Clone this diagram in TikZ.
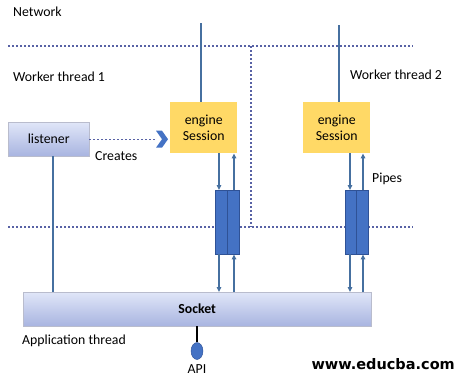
\documentclass[tikz,border=0pt]{standalone}
\usepackage{fontspec}
\setmainfont{Carlito}
\newfontfamily\webfont{DejaVu Sans}
\usetikzlibrary{arrows.meta,positioning,shapes.geometric}
\definecolor{WireBlue}{RGB}{70,112,160}
\definecolor{DotBlue}{RGB}{88,98,165}
\definecolor{EngYellow}{RGB}{255,217,102}
\definecolor{PipeBlue}{RGB}{68,114,196}
\definecolor{PipeEdge}{RGB}{47,82,150}
\definecolor{BarTop}{RGB}{224,230,248}
\definecolor{BarBot}{RGB}{168,180,224}
\definecolor{BarEdge}{RGB}{185,188,205}

\begin{document}
\begin{tikzpicture}[x=1pt,y=-1pt,
    font=\fontsize{13.8}{16.5}\selectfont,
    engbox/.style={fill=EngYellow,minimum width=67pt,minimum height=51pt,inner sep=0pt,align=center,anchor=north west},
    bar/.style={draw=BarEdge,top color=BarTop,bottom color=BarBot,inner sep=0pt,anchor=north west},
    pipebox/.style={draw=PipeEdge,fill=PipeBlue,minimum width=24pt,minimum height=64pt,inner sep=0pt,anchor=north west},
    sep/.style={DotBlue,line width=1.3pt,dash pattern=on 1.6pt off 2.4pt},
    wire/.style={WireBlue,line width=1.3pt},
    flow/.style={wire,-{Triangle[length=5pt,width=4.5pt]}},
    lbl/.style={anchor=west,inner sep=0pt}
  ]
  \useasboundingbox (0,0) rectangle (465,380);

  % Thread boundaries
  \draw[sep] (8,46) -- (413,46);
  \draw[sep] (251,46) -- (251,227);
  \draw[sep] (8,227) -- (413,227);

  % Labels
  \node[lbl] (net) at (13,12) {Network};
  \node[lbl] (wt1) at (13,77) {Worker thread 1};
  \node[lbl] (wt2) at (350,75) {Worker thread 2};
  \node[lbl] (creates) at (95,156) {Creates};
  \node[lbl] (pipes) at (372,179) {Pipes};
  \node[lbl] (app) at (22,341) {Application thread};

  % Boxes
  \node[bar,minimum width=81pt,minimum height=34pt] (listener) at (8,122) {listener};
  \node[bar,minimum width=348pt,minimum height=34pt,font=\fontsize{13.8}{16.5}\selectfont\bfseries] (sock) at (23,292) {Socket};
  \node[engbox] (engA) at (170,102) {engine\\Session};
  \node[engbox] (engB) at (303,102) {engine\\Session};
  \node[pipebox] (pipeA) at (215,190) {};
  \node[pipebox,minimum width=23pt] (pipeB) at (345,190) {};
  \draw[PipeEdge,line width=0.8pt] (pipeA.north) -- (pipeA.south);
  \draw[PipeEdge,line width=0.8pt] (pipeB.north) -- (pipeB.south);

  % Network links
  \coordinate (netA) at (201,23);
  \coordinate (netB) at (339,25);
  \draw[wire] (netA) -- (netA |- engA.north);
  \draw[wire] (netB) -- (netB |- engB.north);

  % Listener to socket
  \coordinate (lw) at (53,0);
  \draw[wire] (listener.south -| lw) -- (sock.north -| lw);

  % Creates, ends in a chevron
  \coordinate (chev) at (156,0);
  \draw[sep] (listener.east) -- (listener.east -| chev);
  \fill[PipeBlue] (listener.east -| chev) ++(0,-8.5) -- ++(6,0) -- ++(6,8.5) -- ++(-6,8.5) -- ++(-6,0) -- ++(6,-8.5) -- cycle;

  % Pipe flows
  \foreach \p/\xi/\xo in {A/219/234, B/350/363} {
    \coordinate (in\p) at (\xi,0);
    \coordinate (out\p) at (\xo,0);
    \draw[flow] (eng\p.south -| in\p) -- (pipe\p.north -| in\p);
    \draw[flow] (pipe\p.north -| out\p) -- (eng\p.south -| out\p);
    \draw[flow] (pipe\p.south -| in\p) -- (sock.north -| in\p);
    \draw[flow] (sock.north -| out\p) -- (pipe\p.south -| out\p);
  }

  % API
  \node[ellipse,draw=PipeEdge,fill=PipeBlue,minimum width=12pt,minimum height=17pt,inner sep=0pt] (apidot) at (197,351) {};
  \draw[black,line width=1.3pt] (sock.south -| apidot) -- (apidot.north);
  \node[inner sep=0pt] (api) at (197,369) {API};

  % Watermark
  \node[anchor=east,inner sep=0pt,font=\webfont\bfseries\fontsize{14.5}{16}\selectfont] (web) at (455,364) {www.educba.com};
\end{tikzpicture}
\end{document}
